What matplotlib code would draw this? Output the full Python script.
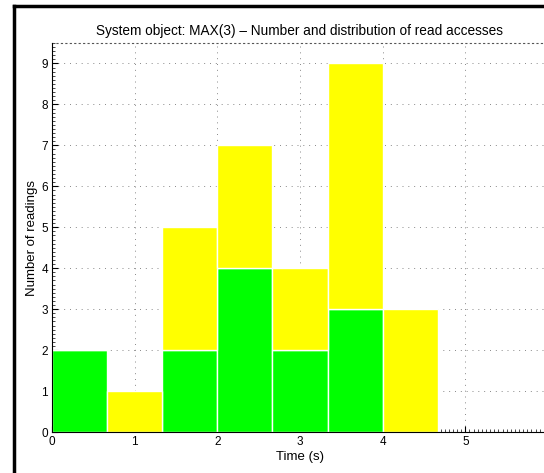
import matplotlib
matplotlib.use("Agg")
import matplotlib.pyplot as plt
from matplotlib.lines import Line2D
from matplotlib.ticker import MultipleLocator
import numpy as np

bin_starts = [0, 2/3, 4/3, 2, 8/3, 10/3, 4]
green_vals = [2, 0, 2, 4, 2, 3, 0]
yellow_vals = [0, 1, 3, 3, 2, 6, 3]
bin_width = 2/3

title = "System object: MAX(3) \u2013 Number and distribution of read accesses"
xlabel = "Time (s)"
ylabel = "Number of readings"
xticks = [0, 1, 2, 3, 4, 5]
yticks = [0, 1, 2, 3, 4, 5, 6, 7, 8, 9]

plt.rcParams['font.family'] = ['Liberation Sans', 'DejaVu Sans']

W, H = 544, 473
fig = plt.figure(figsize=(W/100, H/100), dpi=100)
left, bottom, top, right = 52, 41, 43, 548
ax = fig.add_axes([left/W, bottom/H, (right-left)/W, (H-bottom-top)/H])

ax.bar(bin_starts, green_vals, width=bin_width, align='edge', color='#00ff00',
       edgecolor='white', linewidth=1, zorder=3)
ax.bar(bin_starts, yellow_vals, width=bin_width, bottom=green_vals, align='edge',
       color='#ffff00', edgecolor='white', linewidth=1, zorder=3)

ax.set_xlim(0, 6)
ax.set_ylim(0, 9.5)
ax.set_xticks(xticks)
ax.set_yticks(yticks)
ax.xaxis.set_minor_locator(MultipleLocator(0.05))
ax.yaxis.set_minor_locator(MultipleLocator(0.1))
ax.tick_params(which='major', direction='in', length=4, width=0.8, labelsize=8.5, pad=3)
ax.tick_params(which='minor', direction='in', length=2, width=0.5)
ax.grid(True, which='major', linestyle=(0, (1, 5)), color='#888888', linewidth=0.7, zorder=0)
ax.set_axisbelow(True)

for s in ['left', 'bottom']:
    ax.spines[s].set_linewidth(0.8)
    ax.spines[s].set_zorder(4)
ax.spines['right'].set_visible(False)
ax.spines['top'].set_linestyle((0, (1, 3)))
ax.spines['top'].set_color('#555555')
ax.spines['top'].set_linewidth(0.8)

ax.set_title(title, fontsize=9.8, pad=6)
ax.set_xlabel(xlabel, fontsize=9.5, labelpad=2)
ax.set_ylabel(ylabel, fontsize=9.5, labelpad=2)

# figure frame (left and top black lines)
fig.add_artist(Line2D([14/W, 14/W], [0, 1 - 6/H], color='black', linewidth=2.5,
                      transform=fig.transFigure))
fig.add_artist(Line2D([14/W, 1], [1 - 6/H, 1 - 6/H], color='black', linewidth=2.5,
                      transform=fig.transFigure))

fig.savefig("out.png", dpi=100)
